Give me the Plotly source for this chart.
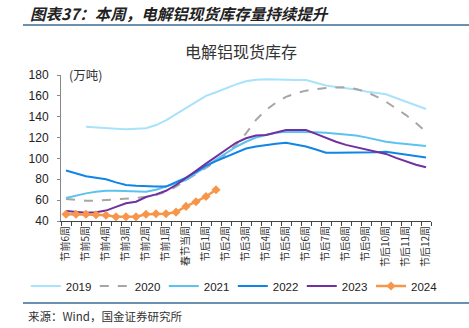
import plotly.graph_objects as go

week_labels = ["节前6周", "节前5周", "节前4周", "节前3周", "节前2周", "节前1周", "春节当周",
               "节后1周", "节后2周", "节后3周", "节后4周", "节后5周", "节后6周", "节后7周",
               "节后8周", "节后9周", "节后10周", "节后11周", "节后12周"]
# half-week sampling points (37 points, labels on every other)
n_points = 37
positions = list(range(n_points))

y2019 = [None, None, 130.4, 130, 129.5, 128.5, 128, 128.3, 129, 132, 136.5, 142.5, 148.2, 153.8,
         160, 163.5, 167.5, 171, 174, 175.5, 176, 176, 175.5, 175.2, 175.2, 172.5, 170, 168.5,
         167.5, 166, 164.2, 163, 161.5, 158, 154.4, 151, 147.4]
y2020 = [61, 60, 59.5, 59.5, 60, 60.5, 61.4, 62, 63.3, 65, 68, 73, 79, 85, 91, 97, 104, 113, 124,
         137, 146.4, 153.5, 159, 162.5, 165, 166.5, 167.6, 168, 168.2, 166.5, 164, 159.5, 154.4,
         148, 141.6, 134, 125.6]
y2021 = [62, 64.5, 66.5, 68, 69, 69, 68.8, 68.5, 68.1, 70, 72.9, 76, 79.3, 86, 92, 99, 105, 111,
         116, 120, 122.5, 124.5, 125.6, 125.6, 125.6, 125, 124.7, 124, 123.4, 122, 120.2, 118, 116,
         114.8, 113.8, 112.8, 111.9]
y2022 = [88.5, 85.5, 83, 81.5, 80, 77, 74.5, 73.8, 73.2, 73, 73, 77, 81.5, 87, 93, 97.5, 101.5,
         105.5, 109.5, 111.5, 113, 114, 115, 113.5, 111.5, 108.5, 105.5, 105.5, 105.5, 105.7, 105.8,
         106, 106.4, 105, 103.3, 102, 101]
y2023 = [49.5, 48.5, 48, 48.5, 50, 53.5, 57, 58.5, 63, 65.5, 69, 74.5, 81, 88, 95, 101.5, 108, 115,
         119.3, 122, 122.5, 125, 127.3, 127.3, 127.3, 123.5, 119.5, 116, 113, 110.8, 108.8, 106.5,
         104.3, 100.5, 96.9, 94, 91.5]
y2024 = [46.5, 46.5, 46.5, 46, 45.5, 44, 44, 44, 46.5, 47, 47, 48.5, 54, 58.5, 63.5, 70]

series = [
    ("2019", y2019, "#A8E2FB", "solid"),
    ("2020", y2020, "#A6A6A6", "dash"),
    ("2021", y2021, "#5CC3F0", "solid"),
    ("2022", y2022, "#1185E6", "solid"),
    ("2023", y2023, "#7030A0", "solid"),
]

fig = go.Figure()
for name, ys, color, dash in series:
    fig.add_trace(go.Scatter(x=positions[:len(ys)], y=ys, name=name, mode="lines",
                             line=dict(color=color, width=2, dash=dash), legend="legend"))
fig.add_trace(go.Scatter(x=positions[:len(y2024)], y=y2024, name="2024", mode="lines+markers",
                         line=dict(color="#F7964A", width=2.5),
                         marker=dict(symbol="diamond", size=7, color="#F7964A"),
                         legend="legend2"))

font_cjk = "Noto Sans CJK SC"
legend_font = dict(size=11.5, family="Liberation Sans, Arial", color="#222")
fig.update_layout(
    width=469, height=328,
    margin=dict(l=61, r=38, t=75, b=107),
    paper_bgcolor="white", plot_bgcolor="white",
    font=dict(family="Liberation Sans, Arial", color="#222"),
    showlegend=True,
    legend=dict(orientation="h", xref="container", yref="container",
                x=0.055, y=0.128, xanchor="left", yanchor="middle",
                font=legend_font, entrywidth=24, entrywidthmode="pixels",
                tracegroupgap=0, itemwidth=30),
    legend2=dict(orientation="h", xref="container", yref="container",
                 x=371 / 469, y=0.128, xanchor="left", yanchor="middle",
                 font=legend_font, entrywidth=24, entrywidthmode="pixels",
                 tracegroupgap=0, itemwidth=30),
    xaxis=dict(range=[-0.5, 36.5], tickmode="array", automargin=False,
               tickvals=positions[::2], ticktext=week_labels,
               tickangle=-90, ticks="", showgrid=False, zeroline=False,
               showline=True, linecolor="#444", linewidth=1,
               tickfont=dict(family=font_cjk, size=10, color="#333"),
               minor=dict(tick0=0.5, dtick=1, ticks="outside", ticklen=4,
                          tickcolor="#444", tickwidth=1, showgrid=False)),
    yaxis=dict(range=[40, 180], dtick=20, ticks="outside", ticklen=3, tickcolor="#888",
               automargin=False,
               showgrid=False, zeroline=False, showline=True, linecolor="#888",
               tickfont=dict(size=12, color="#222"), ticklabelstandoff=6),
    annotations=[
        dict(text="<b><i>图表37：本周，电解铝现货库存量持续提升</i></b>", xref="paper", yref="paper",
             x=(28 - 61) / 370, y=1 + (75 - 13) / 146, xanchor="left", yanchor="middle",
             showarrow=False, font=dict(family=font_cjk, size=15.5, color="#222")),
        dict(text="电解铝现货库存", xref="paper", yref="paper",
             x=(241 - 61) / 370, y=1 + (75 - 51) / 146, xanchor="center", yanchor="middle",
             showarrow=False, font=dict(family=font_cjk, size=16, color="#333")),
        dict(text="(万吨)", xref="paper", yref="paper",
             x=(67 - 61) / 370, y=1 + (75 - 74) / 146, xanchor="left", yanchor="middle",
             showarrow=False, font=dict(family=font_cjk, size=12.5, color="#333")),
        dict(text="来源：Wind，国金证券研究所", xref="paper", yref="paper",
             x=(26 - 61) / 370, y=-(316 - 221) / 146, xanchor="left", yanchor="middle",
             showarrow=False, font=dict(family=font_cjk, size=11.5, color="#333")),
    ],
    shapes=[
        dict(type="line", xref="paper", yref="paper", x0=(23 - 61) / 370, x1=(469 - 61) / 370,
             y0=1 + (75 - 25) / 146, y1=1 + (75 - 25) / 146,
             line=dict(color="#3A6A93", width=1.5)),
        dict(type="line", xref="paper", yref="paper", x0=(23 - 61) / 370, x1=(469 - 61) / 370,
             y0=-(303 - 221) / 146, y1=-(303 - 221) / 146,
             line=dict(color="#3A6A93", width=1.5)),
    ],
)

fig.write_html("out.html")
